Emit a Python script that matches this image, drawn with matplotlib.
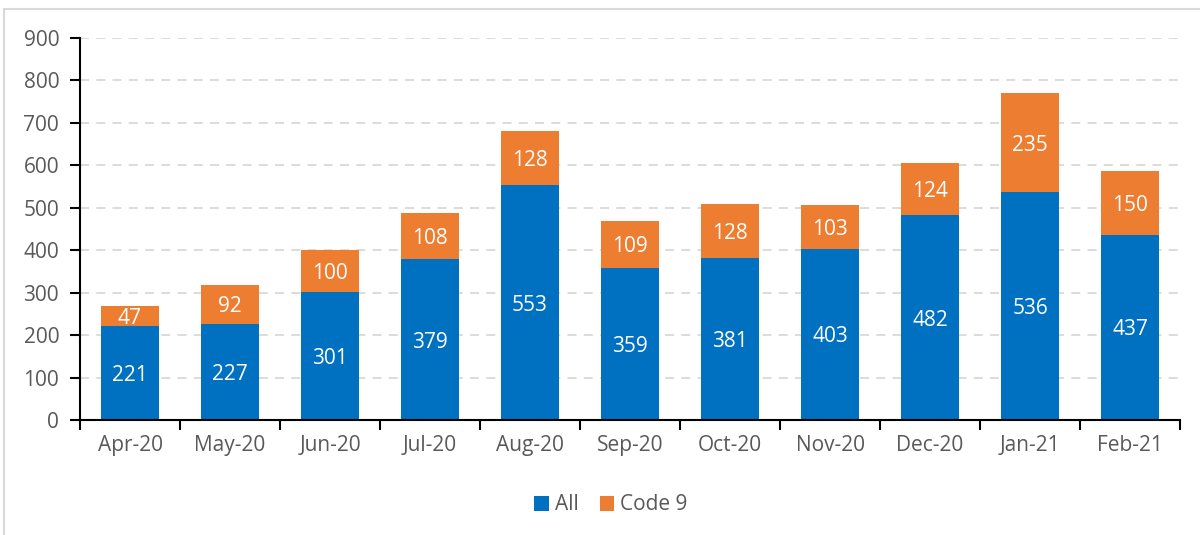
import numpy as np
import matplotlib.pyplot as plt
from matplotlib.patches import Rectangle

months = ['Apr-20', 'May-20', 'Jun-20', 'Jul-20', 'Aug-20', 'Sep-20',
          'Oct-20', 'Nov-20', 'Dec-20', 'Jan-21', 'Feb-21']
all_counts = [221, 227, 301, 379, 553, 359, 381, 403, 482, 536, 437]
code9_counts = [47, 92, 100, 108, 128, 109, 128, 103, 124, 235, 150]

BLUE = '#0070C0'
ORANGE = '#ED7D31'
GREY_TXT = '#595959'
FS = 15

plt.rcParams['font.family'] = ['Open Sans', 'DejaVu Sans']

fig = plt.figure(figsize=(12, 5.35), dpi=100)
ax = fig.add_axes([80 / 1200, 1 - 420 / 535, 1100 / 1200, 382 / 535])

# light frame around the chart area
fig.patches.append(Rectangle((4 / 1200, -0.1), 1.2, 1 - 9 / 535 + 0.1,
                             transform=fig.transFigure, fill=False,
                             edgecolor='#D9D9D9', linewidth=1.5))

x = np.arange(len(months))
w = 0.58
b1 = ax.bar(x, all_counts, w, color=BLUE, label='All', zorder=3)
b2 = ax.bar(x, code9_counts, w, bottom=all_counts, color=ORANGE,
            label='Code 9', zorder=3)

for i in range(len(months)):
    ax.text(x[i], all_counts[i] / 2, str(all_counts[i]), ha='center',
            va='center_baseline', color='white', fontsize=FS, zorder=4)
    ax.text(x[i], all_counts[i] + code9_counts[i] / 2, str(code9_counts[i]),
            ha='center', va='center_baseline', color='white', fontsize=FS,
            zorder=4)

ax.set_xlim(-0.5, len(months) - 0.5)
ax.set_ylim(0, 900)
ax.set_yticks(range(0, 901, 100))
ax.yaxis.grid(True, color='#D9D9D9', linestyle=(0, (5, 4)), linewidth=1.3,
              zorder=0)

# ticks on the category boundaries, labels at the centres
ax.set_xticks(np.arange(-0.5, len(months), 1.0))
ax.set_xticklabels([])
ax.set_xticks(x, minor=True)
ax.set_xticklabels(months, minor=True)
ax.tick_params(axis='x', which='major', length=7, width=1.5, direction='out')
ax.tick_params(axis='x', which='minor', length=0, pad=11,
               labelsize=FS, labelcolor=GREY_TXT)
ax.tick_params(axis='y', length=7, width=1.5, labelsize=FS,
               labelcolor=GREY_TXT, pad=8)

for s in ['top', 'right']:
    ax.spines[s].set_visible(False)
for s in ['left', 'bottom']:
    ax.spines[s].set_linewidth(1.5)
    ax.spines[s].set_zorder(5)

fig.legend(handles=[b1, b2], loc='center',
           bbox_to_anchor=(611 / 1200, 1 - 505 / 535),
           ncol=2, frameon=False, fontsize=FS, labelcolor=GREY_TXT,
           handlelength=0.7, handleheight=0.7, handletextpad=0.3,
           columnspacing=1.0)

fig.savefig('out.png', dpi=100)
